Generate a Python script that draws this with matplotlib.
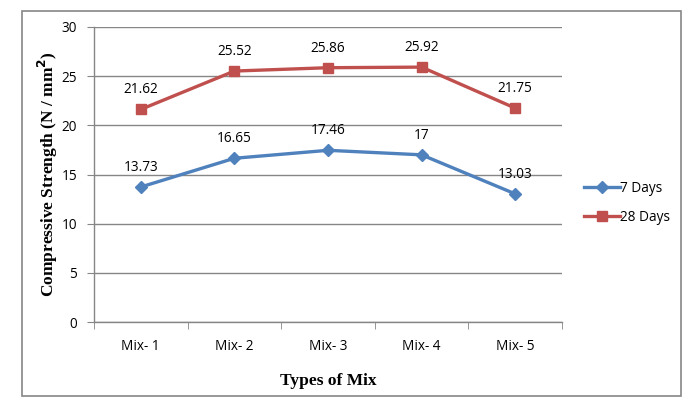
import matplotlib.pyplot as plt
from matplotlib.patches import Rectangle

mixes = ["Mix- 1", "Mix- 2", "Mix- 3", "Mix- 4", "Mix- 5"]
days7 = [13.73, 16.65, 17.46, 17, 13.03]
days28 = [21.62, 25.52, 25.86, 25.92, 21.75]
labels7 = ["13.73", "16.65", "17.46", "17", "13.03"]
labels28 = ["21.62", "25.52", "25.86", "25.92", "21.75"]

blue = "#4F81BD"
red = "#C0504D"
grey = "#868686"
tick_font = "Open Sans"
title_font = "Liberation Serif"
fs = 9.8

fig = plt.figure(figsize=(6.93, 4.08), dpi=100)
ax = fig.add_axes([94 / 693, 86 / 408, 468 / 693, 295 / 408])

# outer chart border
fig.patches.append(Rectangle((21.5 / 693, 12 / 408), 659.5 / 693, 385 / 408,
                             transform=fig.transFigure, fill=False,
                             edgecolor=grey, lw=1.2))

x = list(range(len(mixes)))
ax.plot(x, days7, color=blue, lw=2.4, marker="D", ms=6.5, label="7 Days", zorder=3)
ax.plot(x, days28, color=red, lw=2.4, marker="s", ms=7.5, label="28 Days", zorder=3)

for xi, v, t in zip(x, days7, labels7):
    ax.annotate(t, (xi, v), xytext=(0, 14), textcoords="offset points",
                ha="center", va="center", fontsize=fs, family=tick_font)
for xi, v, t in zip(x, days28, labels28):
    ax.annotate(t, (xi, v), xytext=(0, 14), textcoords="offset points",
                ha="center", va="center", fontsize=fs, family=tick_font)

ax.set_xlim(-0.5, 4.5)
ax.set_ylim(0, 30)
ax.set_yticks(range(0, 31, 5))
ax.set_xticks(x)
ax.set_xticklabels(mixes, family=tick_font, fontsize=fs)
ax.set_xticks([i - 0.5 for i in range(6)], minor=True)
ax.tick_params(axis="x", which="major", length=0, pad=12)
ax.tick_params(axis="x", which="minor", length=5, color=grey, direction="out")
ax.tick_params(axis="y", length=5, color=grey, pad=7, labelsize=fs)
for lab in ax.get_yticklabels():
    lab.set_family(tick_font)

ax.grid(axis="y", color=grey, lw=1)
ax.set_axisbelow(True)
for s in ["top", "right"]:
    ax.spines[s].set_visible(False)
for s in ["left", "bottom"]:
    ax.spines[s].set_color(grey)
    ax.spines[s].set_linewidth(1)

ax.set_ylabel("Compressive Strength (N / mm$^\\mathbf{2}$)", family=title_font,
              fontweight="bold", fontsize=12.5, labelpad=1)
ax.set_xlabel("Types of Mix", family=title_font, fontweight="bold",
              fontsize=12.5, labelpad=14)

fig.legend(loc="center left", bbox_to_anchor=(572 / 693, 1 - 203 / 408),
           frameon=False, handlelength=2.6, handletextpad=0.0,
           labelspacing=1.0, prop={"family": tick_font, "size": fs})

fig.savefig("out.png", dpi=100)
